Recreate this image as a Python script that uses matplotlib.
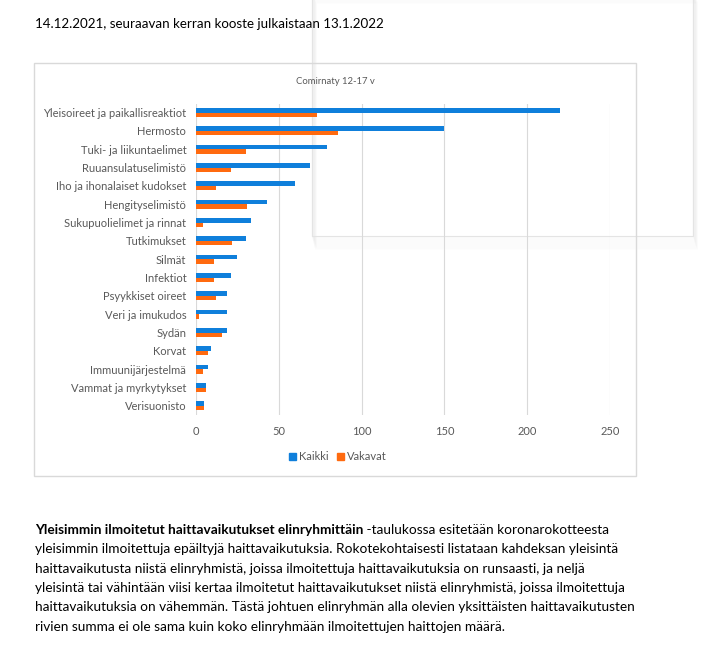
import numpy as np
import matplotlib
matplotlib.use('Agg')
import matplotlib.pyplot as plt
from matplotlib.patches import Rectangle, Patch

plt.rcParams['font.family'] = ['Lato', 'DejaVu Sans']

# Datos del gráfico
categorias = ['Yleisoireet ja paikallisreaktiot', 'Hermosto', 'Tuki- ja liikuntaelimet',
              'Ruuansulatuselimistö', 'Iho ja ihonalaiset kudokset', 'Hengityselimistö',
              'Sukupuolielimet ja rinnat', 'Tutkimukset', 'Silmät', 'Infektiot',
              'Psyykkiset oireet', 'Veri ja imukudos', 'Sydän', 'Korvat',
              'Immuunijärjestelmä', 'Vammat ja myrkytykset', 'Verisuonisto']
kaikki = [220, 150, 79, 69, 60, 43, 33, 30, 25, 21, 19, 19, 19, 9, 7, 6, 5]
vakavat = [73, 86, 30, 21, 12, 31, 4, 22, 11, 11, 12, 2, 16, 7, 4, 6, 5]
xticks = [0, 50, 100, 150, 200, 250]

otsikko = 'Comirnaty 12-17 v'
ylateksti = '14.12.2021, seuraavan kerran kooste julkaistaan 13.1.2022'
lihava = 'Yleisimmin ilmoitetut haittavaikutukset elinryhmittäin'
rivit = [' -taulukossa esitetään koronarokotteesta',
         'yleisimmin ilmoitettuja epäiltyjä haittavaikutuksia. Rokotekohtaisesti listataan kahdeksan yleisintä',
         'haittavaikutusta niistä elinryhmistä, joissa ilmoitettuja haittavaikutuksia on runsaasti, ja neljä',
         'yleisintä tai vähintään viisi kertaa ilmoitetut haittavaikutukset niistä elinryhmistä, joissa ilmoitettuja',
         'haittavaikutuksia on vähemmän. Tästä johtuen elinryhmän alla olevien yksittäisten haittavaikutusten',
         'rivien summa ei ole sama kuin koko elinryhmään ilmoitettujen haittojen määrä.']

W, H = 701, 645
sininen = '#0F7FDB'
oranssi = '#FF6A0F'
harmaa = '#595959'
fs_doc = 9.8
fs_chart = 8.0

fig = plt.figure(figsize=(W / 100, H / 100), dpi=100)

def fx(x):
    return x / W

def fy(y):
    return 1 - y / H

# sombra suave del recuadro flotante
for i in range(1, 14):
    fig.patches.append(Rectangle((fx(312 + i * 0.3), fy(236 + i * 1.0)), fx(381), fy(-10) - fy(236),
                                 transform=fig.transFigure, facecolor='none',
                                 edgecolor='black', alpha=0.008, lw=1.5, zorder=0))
fig.patches.append(Rectangle((fx(312), fy(236)), fx(381), fy(-10) - fy(236),
                             transform=fig.transFigure, facecolor='none',
                             edgecolor='#E4E4E4', lw=0.8, zorder=0.5))

# marco del gráfico
fig.patches.append(Rectangle((fx(34), fy(476)), fx(602), fy(63) - fy(476),
                             transform=fig.transFigure, facecolor='none',
                             edgecolor='#D9D9D9', lw=1.0, zorder=1))

ax = fig.add_axes([fx(196), fy(415), fx(414), fy(103.5) - fy(415)])
ax.set_zorder(3)
ax.set_facecolor('none')
y = np.arange(len(categorias))
h = 0.245
ax.barh(y - h / 2, kaikki, height=h, color=sininen, zorder=3)
ax.barh(y + h / 2, vakavat, height=h, color=oranssi, zorder=3)
ax.set_ylim(len(categorias) - 0.5, -0.5)
ax.set_xlim(0, 250)
ax.set_xticks(xticks)
ax.set_yticks(y)
ax.set_yticklabels(categorias)
for s in ax.spines.values():
    s.set_visible(False)
ax.grid(axis='x', color='#D9D9D9', lw=0.8, zorder=0)
ax.tick_params(axis='both', length=0, labelsize=fs_chart, colors=harmaa)
ax.tick_params(axis='x', pad=8)
ax.tick_params(axis='y', pad=7)

fig.text(fx(335), fy(81), otsikko, ha='center', va='center', fontsize=6.8, color=harmaa)

kahvat = [Patch(color=sininen, label='Kaikki'), Patch(color=oranssi, label='Vakavat')]
fig.legend(handles=kahvat, loc='center', bbox_to_anchor=(fx(338), fy(457)), ncol=2,
           frameon=False, fontsize=fs_chart, labelcolor=harmaa, handlelength=0.6,
           handleheight=0.6, handletextpad=0.3, columnspacing=0.8)

# textos del documento
fig.text(fx(35), fy(28), ylateksti, ha='left', va='baseline', fontsize=9.6, color='black')

t = fig.text(fx(35), fy(534), lihava, ha='left', va='baseline', fontsize=fs_doc,
             color='black', fontweight='bold')
fig.canvas.draw()
ext = t.get_window_extent(fig.canvas.get_renderer())
fig.text(ext.x1 / W, fy(534), rivit[0], ha='left', va='baseline', fontsize=fs_doc, color='black')
for i, rivi in enumerate(rivit[1:]):
    fig.text(fx(35), fy(553.4 + i * 19.3), rivi, ha='left', va='baseline', fontsize=fs_doc, color='black')

fig.savefig('out.png', dpi=100, facecolor='white')
